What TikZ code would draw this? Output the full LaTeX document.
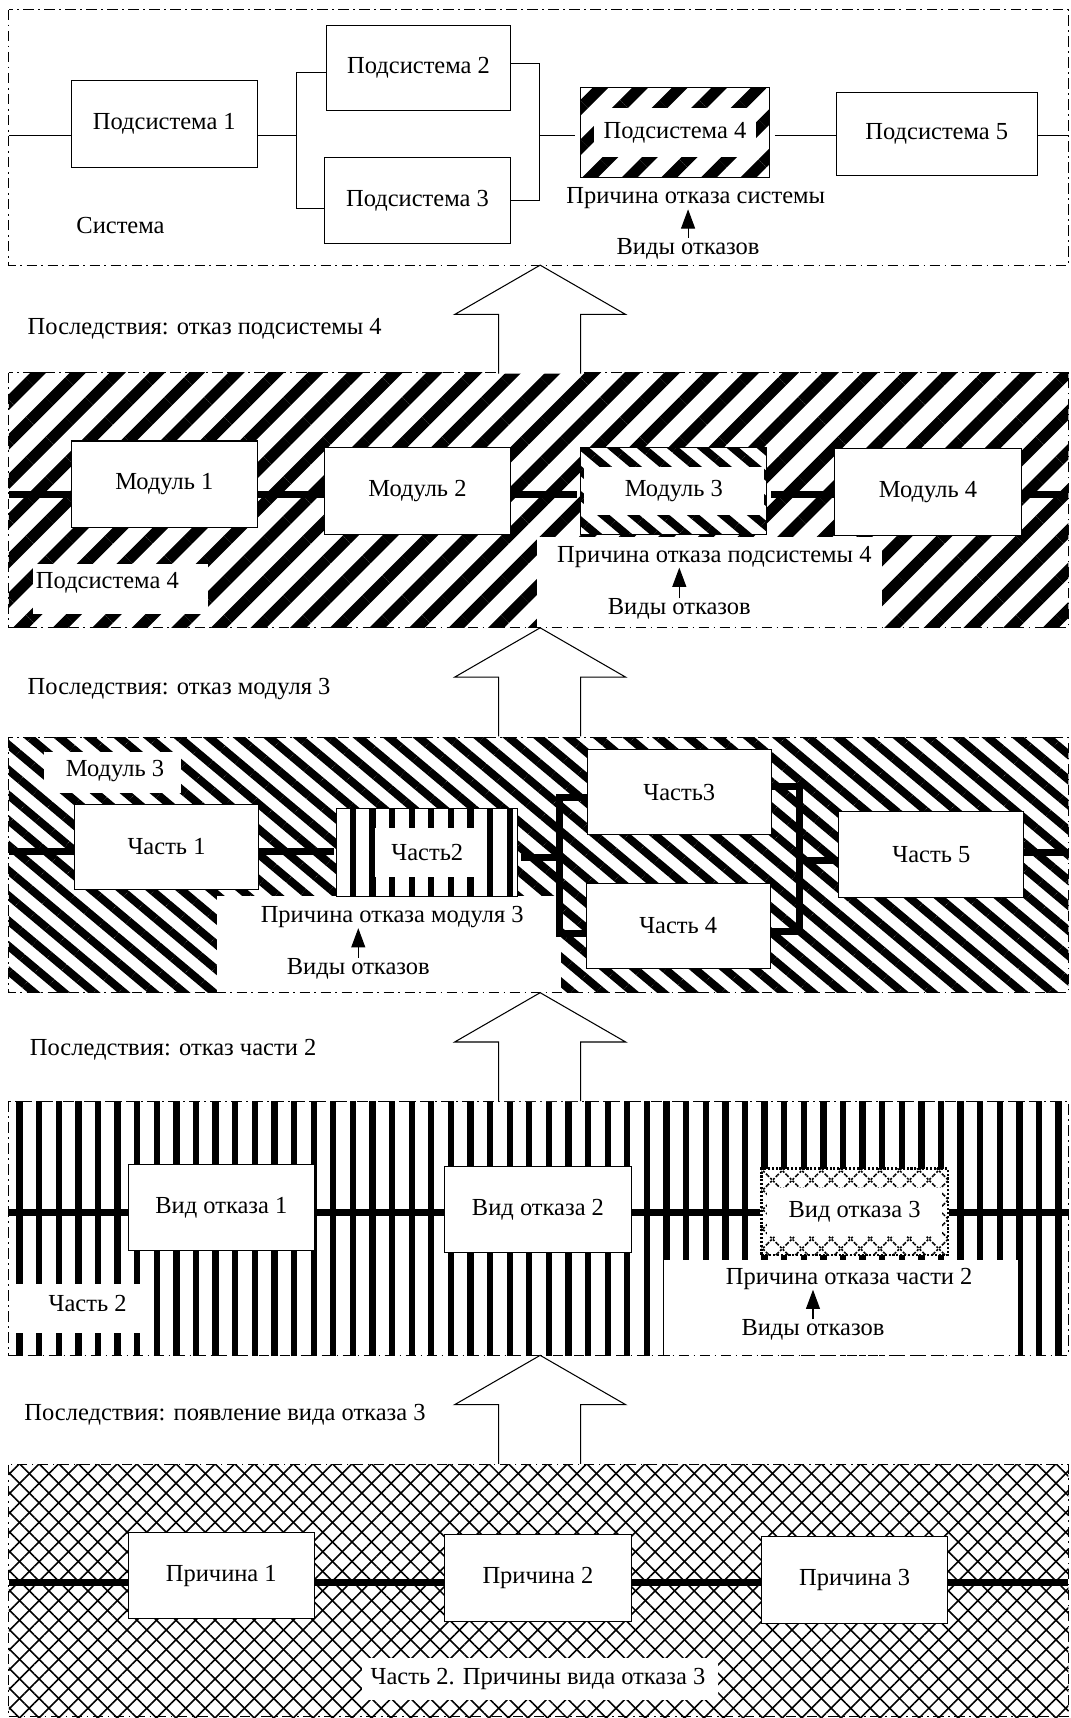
\documentclass[tikz,border=0pt]{standalone}
\usepackage{fontspec}
\setmainfont{Liberation Serif}
\usetikzlibrary{arrows.meta,patterns.meta}
\newlength{\dpx}
\setlength{\dpx}{0.22mm}

\begin{document}
\begin{tikzpicture}[x=\dpx, y=-\dpx,
    font=\fontsize{14}{16}\selectfont,
    unitbox/.style={rectangle, draw=black, line width=0.6pt, fill=white,
                    inner sep=0pt, minimum width=170\dpx, minimum height=79\dpx},
    markbox/.style={rectangle, draw=black, line width=0.6pt, preaction={fill=white},
                    inner sep=0pt, minimum width=170\dpx, minimum height=79\dpx},
    note/.style={inner sep=0pt},
    link/.style={line width=0.6pt},
    heavylink/.style={line width=4pt},
    frameline/.style={line width=0.6pt, dash pattern=on 6pt off 2.5pt on 1pt off 2.5pt},
    hollow/.style={draw=black, fill=white, line width=0.6pt},
    tri/.style={-{Triangle[length=11pt,width=8pt]}, line width=0.6pt},
    hatchne/.style={pattern={Lines[angle=45,distance=16pt,line width=6.4pt]}},
    hatchnw/.style={pattern={Lines[angle=-40,distance=11pt,line width=4.6pt]}},
    hatchv/.style={pattern={Lines[angle=90,distance=11.2pt,line width=3.6pt]}},
    lattice/.style={preaction={pattern={Lines[angle=45,distance=7.9pt,line width=0.9pt]}},
                    pattern={Lines[angle=-45,distance=7.9pt,line width=0.9pt]}},
    whiteband/.style={path picture={\fill[white]
        ([xshift=#1,yshift=22\dpx]path picture bounding box.west) rectangle
        ([xshift=-#1,yshift=-22\dpx]path picture bounding box.east);}}
  ]
  \useasboundingbox (0,0) rectangle (977,1568);

  %% Level 1: system
  \draw[frameline] (8,9) rectangle (975,242);
  \node[unitbox] (sub1) at (150,113) {Подсистема 1};
  \node[unitbox, minimum width=168\dpx, minimum height=78\dpx] (sub2) at (382,62) {Подсистема 2};
  \node[unitbox, minimum width=169\dpx, minimum height=78\dpx] (sub3) at (381,183) {Подсистема 3};
  \node[markbox, minimum width=172\dpx, minimum height=82\dpx, hatchne,
        whiteband=12\dpx] (sub4) at (616,121) {Подсистема 4};
  \node[unitbox, minimum width=183\dpx, minimum height=76\dpx] (sub5) at (855,122) {Подсистема 5};
  \node[note] (sys) at (110,206) {Система};
  \node[note] (cause1) at (635,181) {Причина отказа системы};
  \node[note] (kind1) at (628,227) {Виды отказов};
  \draw[tri] (kind1.north) -- (kind1.north |- cause1.south);

  \coordinate (s0) at (8,124);
  \coordinate (jA) at (271,124);
  \coordinate (jB) at (492,124);
  \coordinate (s9) at (975,124);
  \coordinate (a1) at (271,66);
  \coordinate (a2) at (271,190);
  \coordinate (b1) at (492,58);
  \coordinate (b2) at (492,183);
  \draw[link] (s0) -- (s0 -| sub1.west);
  \draw[link] (sub1.east |- jA) -- (jA);
  \draw[link] (a1 -| sub2.west) -- (a1) -- (a2) -- (a2 -| sub3.west);
  \draw[link] (sub2.east |- b1) -- (b1) -- (b2) -- (sub3.east |- b2);
  \draw[link] (jB) -- (jB -| sub4.west);
  \draw[link] (sub4.east |- jB) -- (sub5.west |- jB);
  \draw[link] (sub5.east |- s9) -- (s9);

  %% Level 2: subsystem 4
  \path[hatchne] (8,340) rectangle (975,573);
  \fill[white] (30,515) rectangle (190,560);
  \fill[white] (490,490) rectangle (805,573);
  \draw[frameline] (8,340) rectangle (975,573);
  \node[unitbox] (mod1) at (150,442) {Модуль 1};
  \node[unitbox] (mod2) at (381,448) {Модуль 2};
  \node[markbox, hatchnw, whiteband=3\dpx] (mod3) at (615,448) {Модуль 3};
  \node[unitbox] (mod4) at (847,449) {Модуль 4};
  \node[note] (subsys) at (98,532) {Подсистема 4};
  \node[note] (cause2) at (652,508) {Причина отказа подсистемы 4};
  \node[note] (kind2) at (620,556) {Виды отказов};
  \draw[tri] (kind2.north) -- (kind2.north |- cause2.south);

  \coordinate (m0) at (8,451);
  \coordinate (m9) at (975,451);
  \draw[heavylink] (m0) -- (m0 -| mod1.west);
  \foreach \a/\b in {mod1/mod2, mod2/mod3, mod3/mod4}
    \draw[heavylink] (\a.east |- m0) -- (\b.west |- m0);
  \draw[heavylink] (mod4.east |- m9) -- (m9);

  %% Level 3: module 3
  \path[hatchnw] (8,673) rectangle (975,906);
  \fill[white] (40,686) rectangle (165,724);
  \fill[white] (198,818) rectangle (512,906);
  \draw[frameline] (8,673) rectangle (975,906);
  \node[unitbox, minimum width=168\dpx, minimum height=77\dpx] (ch1) at (152,773) {Часть 1};
  \node[markbox, minimum width=165\dpx, minimum height=80\dpx, hatchv,
        whiteband=35\dpx] (ch2) at (390,778) {Часть2};
  \node[unitbox, minimum width=168\dpx, minimum height=78\dpx] (ch3) at (620,723) {Часть3};
  \node[unitbox, minimum width=168\dpx, minimum height=77\dpx] (ch4) at (619,845) {Часть 4};
  \node[unitbox, minimum width=169\dpx, minimum height=78\dpx] (ch5) at (850,780) {Часть 5};
  \node[note] (module) at (105,704) {Модуль 3};
  \node[note] (cause3) at (358,837) {Причина отказа модуля 3};
  \node[note] (kind3) at (327,884) {Виды отказов};
  \draw[tri] (kind3.north) -- (kind3.north |- cause3.south);

  \coordinate (c0) at (8,777);
  \coordinate (c9) at (975,778);
  \coordinate (d0) at (511,783);
  \coordinate (d1) at (511,728);
  \coordinate (d2) at (511,852);
  \coordinate (e0) at (730,785);
  \coordinate (e1) at (730,718);
  \coordinate (e2) at (730,850);
  \draw[heavylink] (c0) -- (c0 -| ch1.west);
  \draw[heavylink] (ch1.east |- c0) -- (ch2.west |- c0);
  \draw[heavylink] (ch2.east |- d0) -- (d0);
  \draw[heavylink] (d1 -| ch3.west) -- (d1) -- (d2) -- (d2 -| ch4.west);
  \draw[heavylink] (ch3.east |- e1) -- (e1) -- (e2) -- (ch4.east |- e2);
  \draw[heavylink] (e0) -- (e0 -| ch5.west);
  \draw[heavylink] (ch5.east |- c9) -- (c9);

  %% Level 4: part 2
  \path[hatchv] (8,1005) rectangle (975,1237);
  \fill[white] (9,1172) rectangle (135,1217);
  \fill[white] (606,1150) rectangle (929,1237);
  \draw[frameline] (8,1005) rectangle (975,1237);
  \node[unitbox] (v1) at (202,1102) {Вид отказа 1};
  \node[unitbox] (v2) at (491,1104) {Вид отказа 2};
  \node[markbox, lattice, whiteband=5\dpx, line width=1.2pt, densely dotted]
        (v3) at (780,1106) {Вид отказа 3};
  \node[note] (part) at (80,1190) {Часть 2};
  \node[note] (cause4) at (775,1167) {Причина отказа части 2};
  \node[note] (kind4) at (742,1214) {Виды отказов};
  \draw[tri] (kind4.north) -- (kind4.north |- cause4.south);

  \coordinate (f0) at (8,1107);
  \coordinate (f9) at (975,1107);
  \draw[heavylink] (f0) -- (f0 -| v1.west);
  \foreach \a/\b in {v1/v2, v2/v3}
    \draw[heavylink] (\a.east |- f0) -- (\b.west |- f0);
  \draw[heavylink] (v3.east |- f9) -- (f9);

  %% Level 5: causes of failure mode 3
  \path[lattice] (8,1337) rectangle (975,1568);
  \fill[white] (330,1513) rectangle (655,1552);
  \draw[frameline] (8,1337) rectangle (975,1567);
  \node[unitbox] (p1) at (202,1438) {Причина 1};
  \node[unitbox] (p2) at (491,1440) {Причина 2};
  \node[unitbox] (p3) at (780,1442) {Причина 3};
  \node[note] (causes) at (491,1532) {Часть 2. Причины вида отказа 3};

  \coordinate (g0) at (8,1444);
  \coordinate (g9) at (975,1444);
  \draw[heavylink] (g0) -- (g0 -| p1.west);
  \foreach \a/\b in {p1/p2, p2/p3}
    \draw[heavylink] (\a.east |- g0) -- (\b.west |- g0);
  \draw[heavylink] (p3.east |- g9) -- (g9);

  %% Arrows between levels
  \foreach \ty in {242,573,906,1237}
    \draw[hollow] (455,\ty+99) -- (455,\ty+45) -- (415,\ty+45) -- (493,\ty)
      -- (571,\ty+45) -- (530,\ty+45) -- (530,\ty+99);
  \node[note, anchor=west] (cons1) at (25,300) {Последствия: отказ подсистемы 4};
  \node[note, anchor=west] (cons2) at (25,629) {Последствия: отказ модуля 3};
  \node[note, anchor=west] (cons3) at (27,958) {Последствия: отказ части 2};
  \node[note, anchor=west] (cons4) at (22,1291) {Последствия: появление вида отказа 3};

\end{tikzpicture}
\end{document}
